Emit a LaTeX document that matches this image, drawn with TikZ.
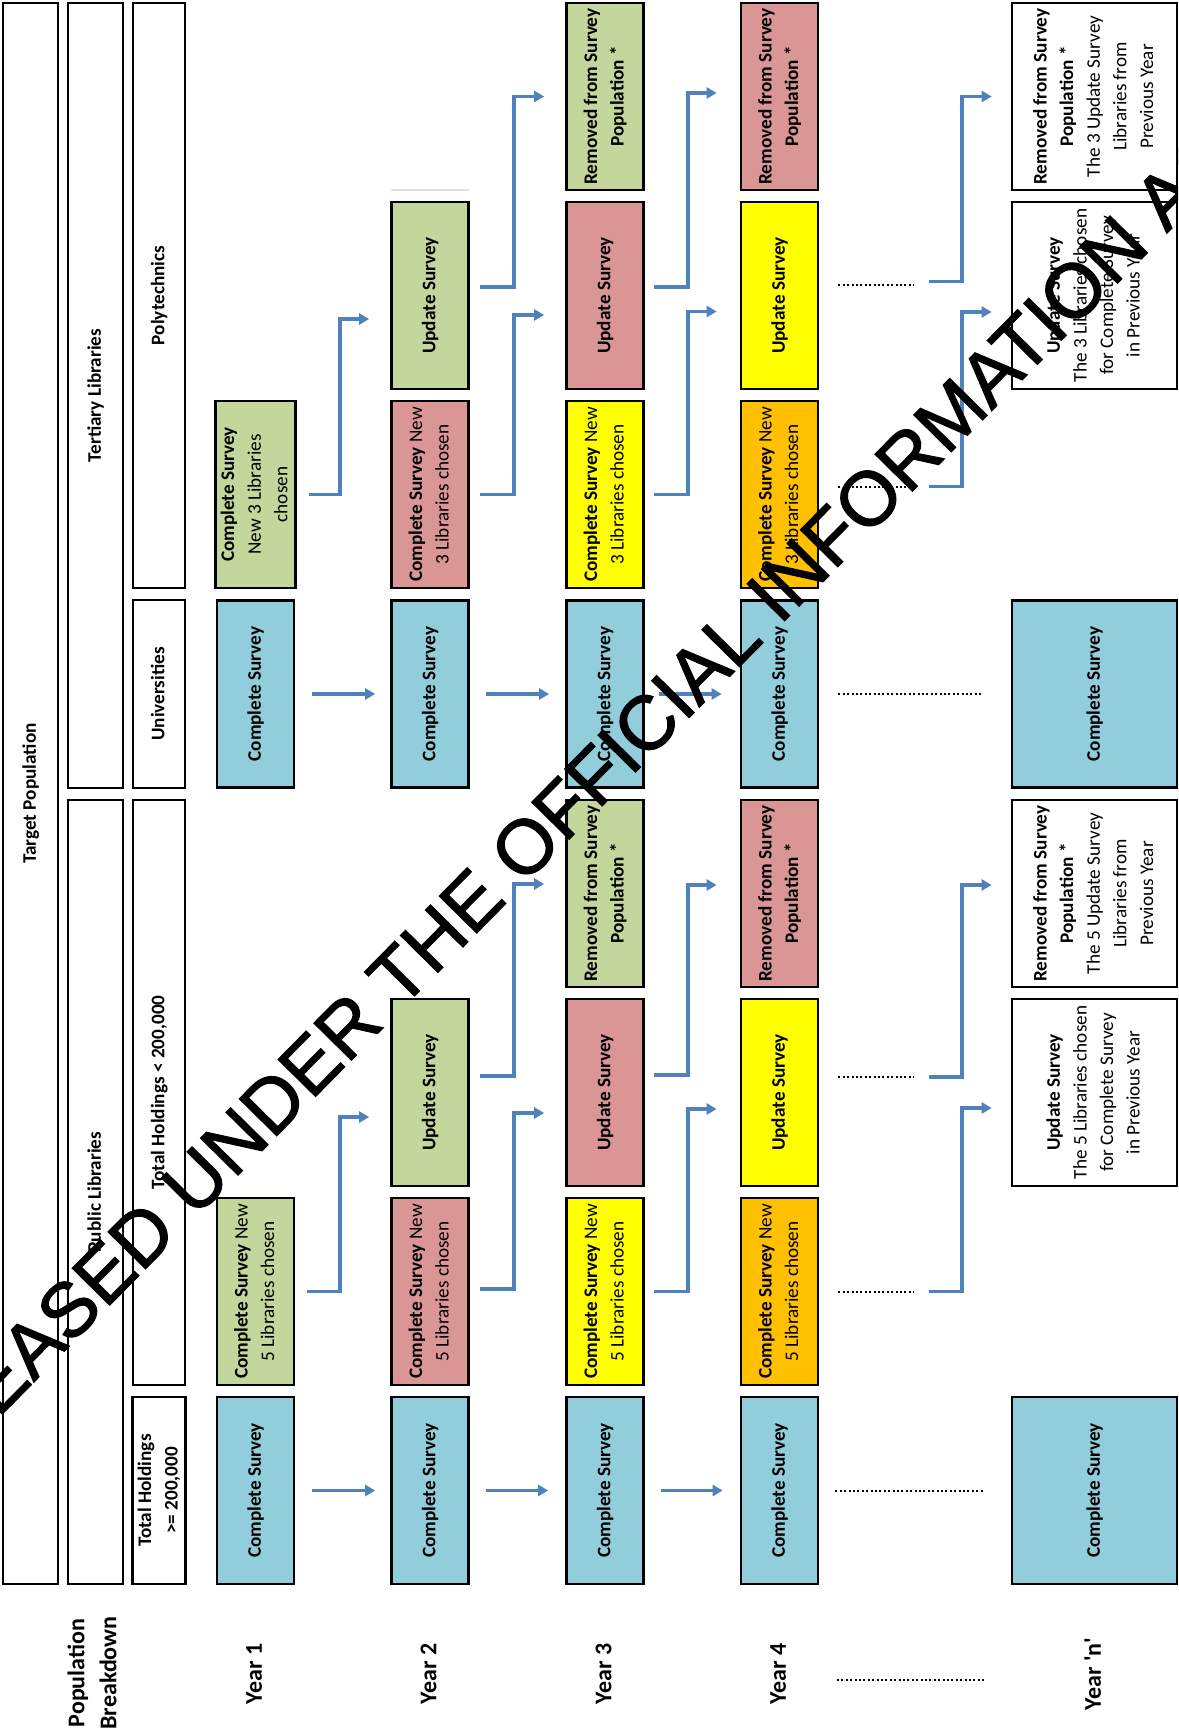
\documentclass[tikz,border=0pt]{standalone}
\usepackage{fontspec}
\setmainfont{Carlito}
\newfontfamily\wmfont[FakeBold=1.5]{Liberation Sans}
\usetikzlibrary{arrows.meta,calc}
\definecolor{cblue}{HTML}{92CDDC}
\definecolor{cgreen}{HTML}{C3D69B}
\definecolor{cred}{HTML}{D99694}
\definecolor{cyel}{HTML}{FFFF00}
\definecolor{corange}{HTML}{FFC000}
\definecolor{arrblue}{HTML}{4F81BD}
\newcommand\vt[1]{\rotatebox{90}{\begin{tabular}{@{}c@{}}#1\end{tabular}}}
\newcommand\elb[3]{\coordinate (eS) at #1; \coordinate (eE) at #3; \draw[arr] (eS) -- (eS -| #2) |- (eE);}
\begin{document}
\begin{tikzpicture}[x=0.5pt,y=-0.5pt,
  bx/.style={draw=black, line width=1.35pt, inner sep=0pt, font=\fontsize{9.6}{13.3}\selectfont},
  yb/.style={bx, minimum width=38.5pt, minimum height=93.5pt},
  nb/.style={bx, minimum width=82.5pt, minimum height=93.5pt},
  arr/.style={draw=arrblue, line width=1.65pt, -{Triangle[length=5pt,width=5.5pt]}},
  dots/.style={draw=black, line width=1pt, dash pattern=on 1pt off 1.2pt},
  lab/.style={font=\fontsize{12}{16}\selectfont\bfseries, inner sep=0pt}
]
\useasboundingbox (0,0) rectangle (1178,1732);
\fill[white] (0,0) rectangle (1178,1732);

% header columns
\node[bx, minimum width=27.5pt, minimum height=790.5pt] (tp) at (30.5,793.5) {\vt{\textbf{Target Population}}};
\node[bx, minimum width=27.5pt, minimum height=392.5pt] (tl) at (95.5,395.5) {\vt{\textbf{Tertiary Libraries}}};
\node[bx, minimum width=27.5pt, minimum height=392pt] (pl) at (95.5,1192) {\vt{\textbf{Public Libraries}}};
\node[bx, minimum width=26pt, minimum height=292.5pt] (po) at (159,295.5) {\vt{\textbf{Polytechnics}}};
\node[bx, minimum width=26pt, minimum height=94pt] (un) at (159,694) {\vt{\textbf{Universities}}};
\node[bx, minimum width=26pt, minimum height=292.5pt] (lt) at (159,1092.5) {\vt{\textbf{Total Holdings < 200,000}}};
\node[bx, minimum width=26pt, minimum height=93.5pt] (ge) at (159,1490.5) {\vt{\textbf{Total Holdings}\\\textbf{>= 200,000}}};

% Year 1
\node[yb, fill=cgreen] (y1pc) at (255.5,494.5) {\vt{\textbf{Complete Survey}\\New 3 Libraries\\chosen}};
\node[yb, fill=cblue] (y1u) at (255.5,694) {\vt{\textbf{Complete Survey}}};
\node[yb, fill=cgreen] (y1bc) at (255.5,1291.5) {\vt{\textbf{Complete Survey} New\\5 Libraries chosen}};
\node[yb, fill=cblue] (y1t) at (255.5,1490.5) {\vt{\textbf{Complete Survey}}};

% Year 2
\draw[gray!25, line width=1pt] (391,190) -- (469,190);
\node[yb, fill=cgreen] (y2pu) at (430,295.5) {\vt{\textbf{Update Survey}}};
\node[yb, fill=cred] (y2pc) at (430,494.5) {\vt{\textbf{Complete Survey} New\\3 Libraries chosen}};
\node[yb, fill=cblue] (y2u) at (430,694) {\vt{\textbf{Complete Survey}}};
\node[yb, fill=cgreen] (y2bu) at (430,1092.5) {\vt{\textbf{Update Survey}}};
\node[yb, fill=cred] (y2bc) at (430,1291.5) {\vt{\textbf{Complete Survey} New\\5 Libraries chosen}};
\node[yb, fill=cblue] (y2t) at (430,1490.5) {\vt{\textbf{Complete Survey}}};

% Year 3
\node[yb, fill=cgreen] (y3pr) at (605,96.5) {\vt{\textbf{Removed from Survey}\\\textbf{Population *}}};
\node[yb, fill=cred] (y3pu) at (605,295.5) {\vt{\textbf{Update Survey}}};
\node[yb, fill=cyel] (y3pc) at (605,494.5) {\vt{\textbf{Complete Survey} New\\3 Libraries chosen}};
\node[yb, fill=cblue] (y3u) at (605,694) {\vt{\textbf{Complete Survey}}};
\node[yb, fill=cgreen] (y3br) at (605,893.5) {\vt{\textbf{Removed from Survey}\\\textbf{Population *}}};
\node[yb, fill=cred] (y3bu) at (605,1092.5) {\vt{\textbf{Update Survey}}};
\node[yb, fill=cyel] (y3bc) at (605,1291.5) {\vt{\textbf{Complete Survey} New\\5 Libraries chosen}};
\node[yb, fill=cblue] (y3t) at (605,1490.5) {\vt{\textbf{Complete Survey}}};

% Year 4
\node[yb, fill=cred] (y4pr) at (779.5,96.5) {\vt{\textbf{Removed from Survey}\\\textbf{Population *}}};
\node[yb, fill=cyel] (y4pu) at (779.5,295.5) {\vt{\textbf{Update Survey}}};
\node[yb, fill=corange] (y4pc) at (779.5,494.5) {\vt{\textbf{Complete Survey} New\\3 Libraries chosen}};
\node[yb, fill=cblue] (y4u) at (779.5,694) {\vt{\textbf{Complete Survey}}};
\node[yb, fill=cred] (y4br) at (779.5,893.5) {\vt{\textbf{Removed from Survey}\\\textbf{Population *}}};
\node[yb, fill=cyel] (y4bu) at (779.5,1092.5) {\vt{\textbf{Update Survey}}};
\node[yb, fill=corange] (y4bc) at (779.5,1291.5) {\vt{\textbf{Complete Survey} New\\5 Libraries chosen}};
\node[yb, fill=cblue] (y4t) at (779.5,1490.5) {\vt{\textbf{Complete Survey}}};

% Year n
\node[nb, fill=white] (ynpr) at (1094.5,96.5) {\vt{\textbf{Removed from Survey}\\\textbf{Population *}\\The 3 Update Survey\\Libraries from\\Previous Year}};
\node[nb, fill=white] (ynpu) at (1094.5,295.5) {\vt{\textbf{Update Survey}\\The 3 Libraries chosen\\for Complete Survey\\in Previous Year}};
\node[nb, fill=cblue] (ynu) at (1094.5,694) {\vt{\textbf{Complete Survey}}};
\node[nb, fill=white] (ynbr) at (1094.5,893.5) {\vt{\textbf{Removed from Survey}\\\textbf{Population *}\\The 5 Update Survey\\Libraries from\\Previous Year}};
\node[nb, fill=white] (ynbu) at (1094.5,1092.5) {\vt{\textbf{Update Survey}\\The 5 Libraries chosen\\for Complete Survey\\in Previous Year}};
\node[nb, fill=cblue] (ynt) at (1094.5,1490.5) {\vt{\textbf{Complete Survey}}};

% bottom labels
\node[lab] (pb) at (94,1673) {\vt{Population\\Breakdown}};
\node[lab] (l1) at (255.5,1674) {\vt{Year 1}};
\node[lab] (l2) at (430,1674) {\vt{Year 2}};
\node[lab] (l3) at (605,1674) {\vt{Year 3}};
\node[lab] (l4) at (779.5,1674) {\vt{Year 4}};
\node[lab] (ln) at (1094.5,1674) {\vt{Year \textquotesingle n\textquotesingle}};
\draw[dots] (837,1680) -- (986,1680);

% bend x positions
\coordinate (b1) at (340,0);
\coordinate (b2) at (514,0);
\coordinate (b3) at (688,0);
\coordinate (b4) at (962,0);

% straight arrows
\draw[arr] ([xshift=8.5pt]y1u.east) -- ([xshift=-7.5pt]y2u.west);
\draw[arr] ([xshift=8pt]y2u.east) -- ([xshift=-8pt]y3u.west);
\draw[arr] ([xshift=7pt]y3u.east) -- ([xshift=-9pt]y4u.west);
\draw[dots] ([xshift=9.5pt]y4u.east) -- ([xshift=-14.5pt]ynu.west);
\draw[arr] ([xshift=8.5pt]y1t.east) -- ([xshift=-7.5pt]y2t.west);
\draw[arr] ([xshift=8pt]y2t.east) -- ([xshift=-8.5pt]y3t.west);
\draw[arr] ([xshift=8pt]y3t.east) -- ([xshift=-8.5pt]y4t.west);
\draw[dots] ([xshift=8pt]y4t.east) -- ([xshift=-13pt]ynt.west);

% polytechnic elbows
\elb{([xshift=6pt]y1pc.east)}{b1}{([xshift=-10.5pt,yshift=-11.75pt]y2pu.west)}
\elb{([xshift=5pt]y2pc.east)}{b2}{([xshift=-10.5pt,yshift=-9.75pt]y3pu.west)}
\elb{([xshift=5pt,yshift=4.25pt]y2pu.east)}{b2}{([xshift=-10.5pt]y3pr.west)}
\elb{([xshift=4.5pt]y3pc.east)}{b3}{([xshift=-11.5pt,yshift=-8pt]y4pu.west)}
\elb{([xshift=4.5pt,yshift=4.25pt]y3pu.east)}{b3}{([xshift=-11.5pt,yshift=1.75pt]y4pr.west)}
\draw[dots] ([xshift=9.5pt,yshift=3.5pt]y4pc.east) -- ([xshift=47.5pt,yshift=3.5pt]y4pc.east);
\elb{([xshift=55pt,yshift=4pt]y4pc.east)}{b4}{([xshift=-9.5pt,yshift=-8.25pt]ynpu.west)}
\draw[dots] ([xshift=9.5pt,yshift=5pt]y4pu.east) -- ([xshift=47.5pt,yshift=5pt]y4pu.east);
\elb{([xshift=55pt,yshift=7pt]y4pu.east)}{b4}{([xshift=-9.5pt]ynpr.west)}

% public elbows
\elb{([xshift=6pt]y1bc.east)}{b1}{([xshift=-10.5pt,yshift=-12.25pt]y2bu.west)}
\elb{([xshift=5pt,yshift=1.25pt]y2bc.east)}{b2}{([xshift=-10.5pt,yshift=-10.25pt]y3bu.west)}
\elb{([xshift=5pt,yshift=8.25pt]y2bu.east)}{b2}{([xshift=-10.5pt,yshift=4.75pt]y3br.west)}
\elb{([xshift=4.5pt]y3bc.east)}{b3}{([xshift=-11.5pt,yshift=-8.25pt]y4bu.west)}
\elb{([xshift=4.5pt,yshift=8.75pt]y3bu.east)}{b3}{([xshift=-11.5pt,yshift=4.25pt]y4br.west)}
\draw[dots] ([xshift=9.5pt]y4bc.east) -- ([xshift=47.5pt]y4bc.east);
\elb{([xshift=55pt]y4bc.east)}{b4}{([xshift=-9.5pt,yshift=-7.75pt]ynbu.west)}
\draw[dots] ([xshift=9.5pt,yshift=7.75pt]y4bu.east) -- ([xshift=47.5pt,yshift=7.75pt]y4bu.east);
\elb{([xshift=55pt,yshift=7.75pt]y4bu.east)}{b4}{([xshift=-9.5pt,yshift=4.25pt]ynbr.west)}

% watermark
\begin{scope}
\clip (0,0) rectangle (1178,1732);
\node[rotate=45.4, inner sep=0pt, font=\wmfont\fontsize{38.25}{40}\selectfont] (wm) at (565,806) {RELEASED UNDER THE OFFICIAL INFORMATION ACT};
\end{scope}
\end{tikzpicture}
\end{document}
